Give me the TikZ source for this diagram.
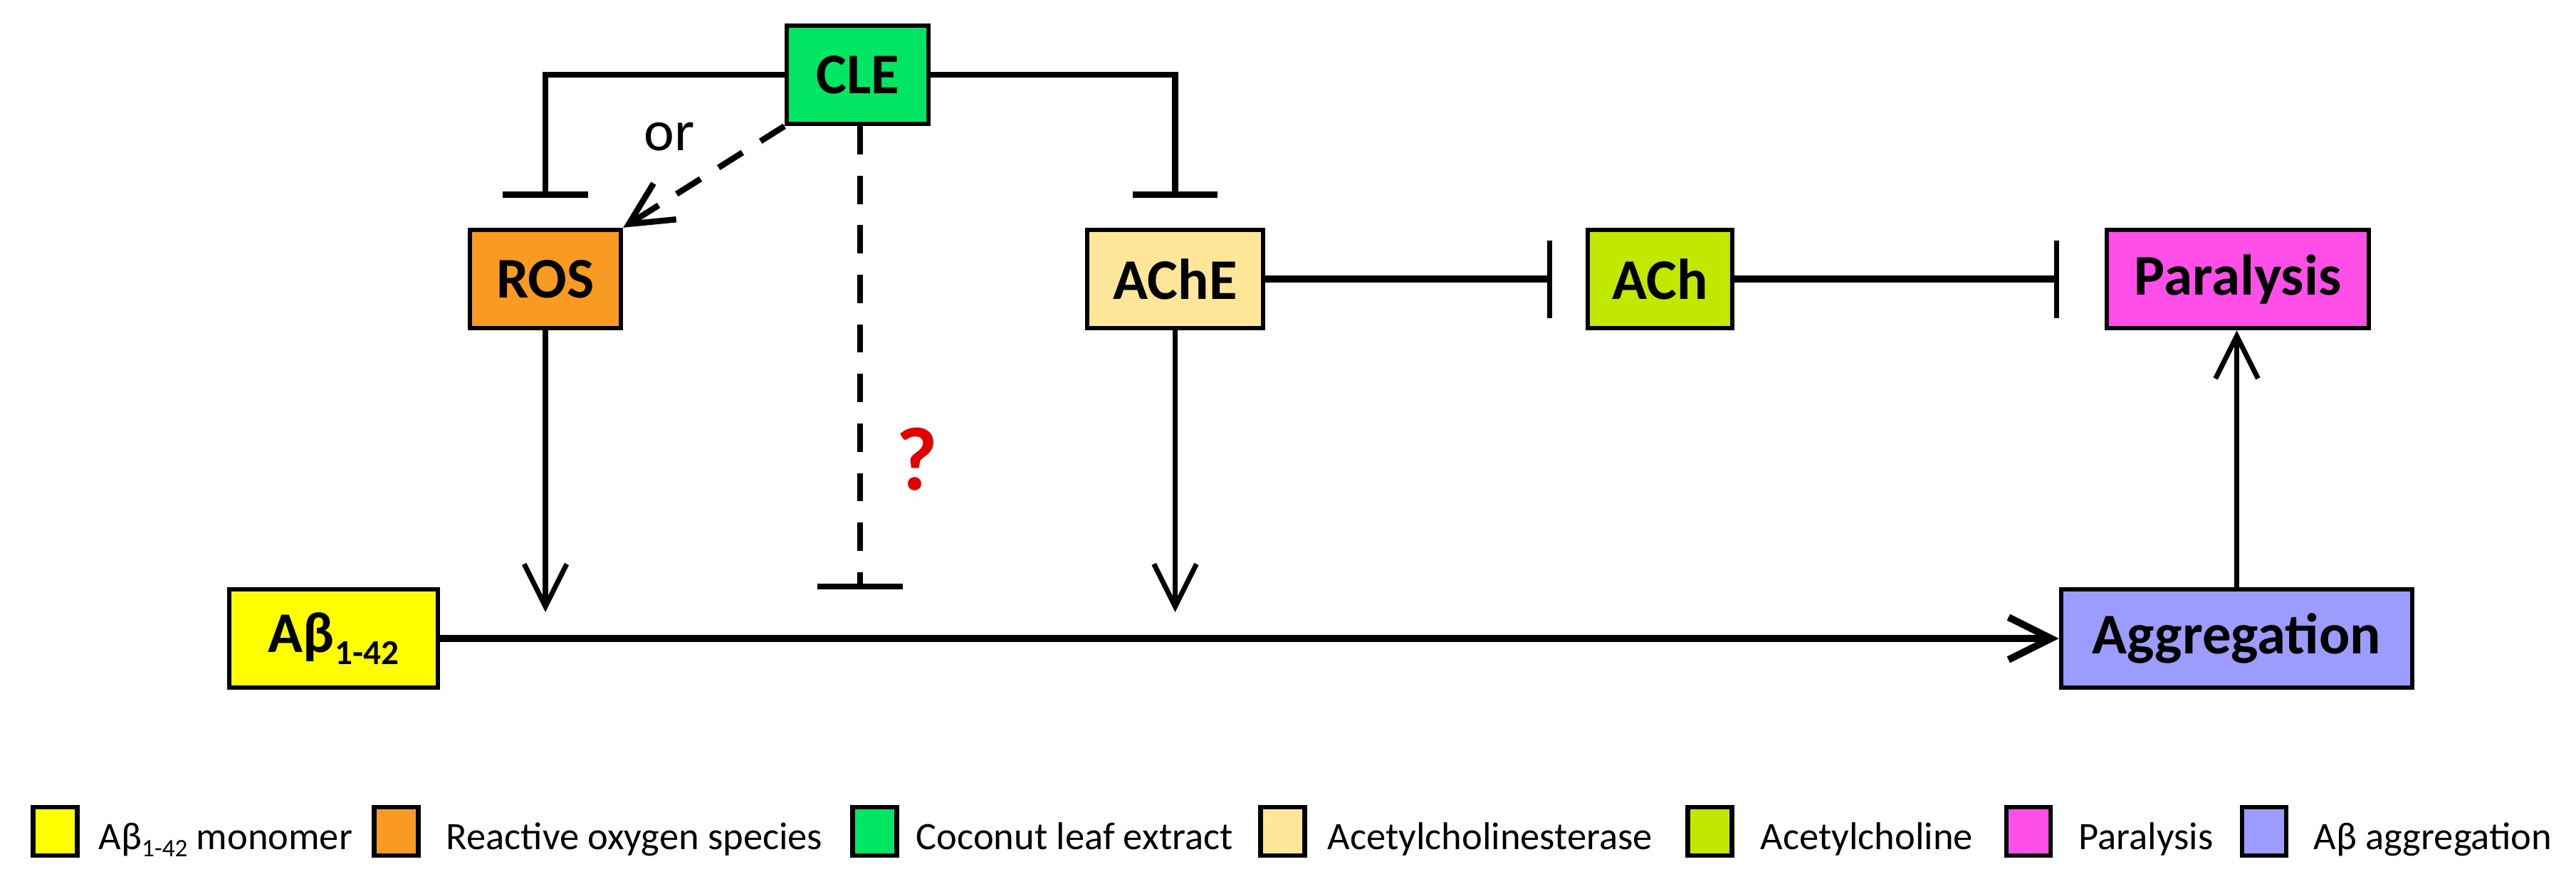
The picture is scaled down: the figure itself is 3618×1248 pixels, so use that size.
\documentclass[tikz,border=0pt]{standalone}
\usepackage{fontspec}
\setmainfont{Carlito}
\usetikzlibrary{arrows.meta}
\definecolor{cyel}{HTML}{FFFF00}
\definecolor{cora}{HTML}{F99B22}
\definecolor{cgrn}{HTML}{00E564}
\definecolor{cache}{HTML}{FFE699}
\definecolor{clime}{HTML}{C0E800}
\definecolor{cpink}{HTML}{FF4FE8}
\definecolor{cpurp}{HTML}{9C9CFF}
\definecolor{cred}{HTML}{E00000}
\tikzset{
 box/.style={draw, line width=1.8pt, minimum height=1.38cm, inner sep=0pt,
   font=\fontsize{23pt}{27pt}\selectfont\bfseries},
 conn/.style={line width=2.4pt},
 act/.style={conn, -{Straight Barb[length=17pt,width=17pt]}},
 inh/.style={conn, -{Bar[width=34pt]}},
 dsh/.style={dash pattern=on 11.3pt off 8.5pt},
 legbox/.style={draw, line width=1.8pt, minimum width=0.62cm, minimum height=0.68cm, inner sep=0pt},
 legtext/.style={anchor=base west, inner sep=0pt, font=\fontsize{15.5pt}{18pt}\selectfont},
}
\begin{document}
\begin{tikzpicture}[x=0.01cm, y=-0.01cm]
\useasboundingbox[fill=white] (0,0) rectangle (3618,1248);
% nodes
\node[box, fill=cgrn, minimum width=1.99cm] (cle) at (1204.5,105) {CLE};
\node[box, fill=cora, minimum width=2.12cm] (ros) at (766,392) {ROS};
\node[box, fill=cache, minimum width=2.47cm] (ache) at (1650.5,392) {AChE};
\node[box, fill=clime, minimum width=2.03cm] (ach) at (2331.5,392) {ACh};
\node[box, fill=cpink, minimum width=3.68cm] (par) at (3143,392) {Paralysis};
\node[box, fill=cyel, minimum width=2.93cm] (ab) at (468.5,897) {Aβ\raisebox{-4.8pt}{\fontsize{14pt}{16pt}\selectfont 1-42}};
\node[box, fill=cpurp, minimum width=4.93cm] (agg) at (3141.5,897) {Aggregation};
% labels
\node[font=\fontsize{23pt}{27pt}\selectfont] (or) at (940,192) {or};
\node[font=\fontsize{36pt}{40pt}\selectfont\bfseries, text=cred] (qm) at (1288,645) {?};
% connectors
\draw[inh, shorten >=0.42cm] (cle.west) -| (ros.north);
\draw[inh, shorten >=0.42cm] (cle.east) -| (ache.north);
\draw[act, dsh] (cle.south west) -- (ros.north east);
\coordinate (qbar) at (1208,828);
\draw[inh, dsh] (cle.south -| qbar) -- (qbar);
\coordinate (r1) at (ros.south |- ab.east);
\coordinate (r2) at (ache.south |- ab.east);
\draw[act, line width=2pt, shorten >=0.37cm] (ros.south) -- (r1);
\draw[act, line width=2pt, shorten >=0.37cm] (ache.south) -- (r2);
\draw[act, line width=2.8pt] (ab.east) -- (agg.west);
\draw[act, line width=2pt] (agg.north) -- (agg.north |- par.south);
\draw[conn, line width=2.8pt, -{Bar[width=31pt, line width=2pt]}, shorten >=0.47cm] (ache.east) -- (ach.west);
\draw[conn, line width=2.8pt, -{Bar[width=31pt, line width=2pt]}, shorten >=0.64cm] (ach.east) -- (par.west);
% legend
\node[legbox, fill=cyel] (l1) at (77.5,1168) {};
\node[legtext] (t1) at (138,1193) {Aβ\raisebox{-3pt}{\fontsize{10pt}{12pt}\selectfont 1-42} monomer};
\node[legbox, fill=cora] (l2) at (556.5,1168) {};
\node[legtext] (t2) at (626,1193) {Reactive oxygen species};
\node[legbox, fill=cgrn] (l3) at (1228.5,1168) {};
\node[legtext] (t3) at (1286,1193) {Coconut leaf extract};
\node[legbox, fill=cache] (l4) at (1801.5,1168) {};
\node[legtext] (t4) at (1864,1193) {Acetylcholinesterase};
\node[legbox, fill=clime] (l5) at (2401.5,1168) {};
\node[legtext] (t5) at (2472,1193) {Acetylcholine};
\node[legbox, fill=cpink] (l6) at (2849,1168) {};
\node[legtext] (t6) at (2919,1193) {Paralysis};
\node[legbox, fill=cpurp] (l7) at (3180,1168) {};
\node[legtext] (t7) at (3249,1193) {Aβ aggregation};
\end{tikzpicture}
\end{document}
